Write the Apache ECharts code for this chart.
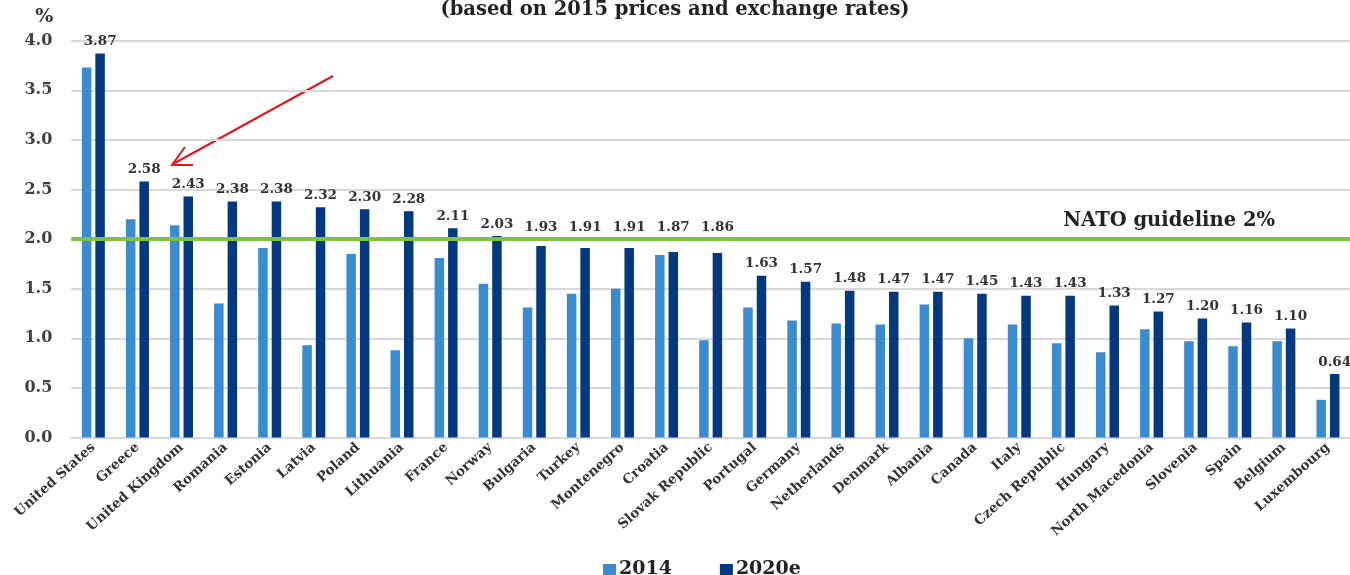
<!DOCTYPE html>
<html>
<head>
<meta charset="utf-8">
<script src="https://cdn.jsdelivr.net/npm/echarts@6/dist/echarts.min.js"></script>
<style>
html,body{margin:0;padding:0;background:#fff;}
#chart{width:1350px;height:575px;}
</style>
</head>
<body>
<div id="chart"></div>
<script>
const categories = ["United States","Greece","United Kingdom","Romania","Estonia","Latvia","Poland","Lithuania","France","Norway","Bulgaria","Turkey","Montenegro","Croatia","Slovak Republic","Portugal","Germany","Netherlands","Denmark","Albania","Canada","Italy","Czech Republic","Hungary","North Macedonia","Slovenia","Spain","Belgium","Luxembourg"];
const values2014 = [3.73,2.20,2.14,1.35,1.91,0.93,1.85,0.88,1.81,1.55,1.31,1.45,1.50,1.84,0.98,1.31,1.18,1.15,1.14,1.34,1.00,1.14,0.95,0.86,1.09,0.97,0.92,0.97,0.38];
const values2020 = [3.87,2.58,2.43,2.38,2.38,2.32,2.30,2.28,2.11,2.03,1.93,1.91,1.91,1.87,1.86,1.63,1.57,1.48,1.47,1.47,1.45,1.43,1.43,1.33,1.27,1.20,1.16,1.10,0.64];
const seriesNames = ["2014","2020e"];
const guidelineValue = 2.0;
const guidelineText = "NATO guideline 2%";
const titleText = "(based on 2015 prices and exchange rates)";
const yTicks = {min:0, max:4, interval:0.5};

const FONT = "DejaVu Serif";
const GRID = {left:71.3, right:-7.2, top:40.7, bottom:137.5};
const plotH = 575 - GRID.top - GRID.bottom;
const pxPerUnit = plotH / (yTicks.max - yTicks.min);

// labels of bars just under the guideline are lifted above the green line
const data2020 = values2020.map(v => {
  if (v >= 1.75 && v < guidelineValue) {
    const lift = (guidelineValue - v) * pxPerUnit;
    return {value:v, label:{offset:[0, -lift]}};
  }
  return {value:v};
});

const chart = echarts.init(document.getElementById('chart'), null, {renderer:'canvas'});
chart.setOption({
  animation:false,
  backgroundColor:'#fff',
  title:{
    text:titleText, left:'center', top:0, padding:0,
    textStyle:{fontFamily:FONT, fontWeight:'bold', fontSize:19.5, color:'#222'}
  },
  legend:{
    data:seriesNames, left:598, top:555, itemGap:48, itemWidth:13, itemHeight:11,
    icon:'rect',
    textStyle:{fontFamily:FONT, fontWeight:'bold', fontSize:19, color:'#222', padding:[0,0,0,-2]}
  },
  grid:Object.assign({containLabel:false}, GRID),
  xAxis:{
    type:'category', data:categories,
    axisLine:{show:true, lineStyle:{color:'#D9D9D9', width:2}},
    axisTick:{show:false},
    axisLabel:{interval:0, rotate:42, margin:8, fontFamily:FONT, fontWeight:'bold', fontSize:13.5, color:'#333'}
  },
  yAxis:{
    type:'value', min:yTicks.min, max:yTicks.max, interval:yTicks.interval,
    name:'%', nameLocation:'end', nameGap:14,
    nameTextStyle:{fontFamily:FONT, fontWeight:'bold', fontSize:19, color:'#333', align:'right', padding:[0,18,0,0]},
    axisLine:{show:false}, axisTick:{show:false},
    splitLine:{lineStyle:{color:'#D9D9D9', width:2}},
    axisLabel:{margin:19, fontFamily:FONT, fontWeight:'bold', fontSize:16, color:'#404040', formatter:v=>v.toFixed(1)}
  },
  series:[
    {name:seriesNames[0], type:'bar', data:values2014, barWidth:9.5, barGap:'42%',
     itemStyle:{color:'#3A8BD0'}},
    {name:seriesNames[1], type:'bar', data:data2020, barWidth:9.5, barGap:'42%',
     itemStyle:{color:'#04397F'},
     label:{show:true, position:'top', distance:5, fontFamily:FONT, fontWeight:'bold', fontSize:13.5, color:'#333', formatter:p=>p.value.toFixed(2)},
     markLine:{
       silent:true, symbol:['none','none'],
       lineStyle:{color:'#7DC242', width:4, type:'solid'},
       label:{show:true, position:'insideEndTop', formatter:guidelineText, distance:8, padding:[0,67,0,0],
              fontFamily:FONT, fontWeight:'bold', fontSize:19.5, color:'#222'},
       data:[{yAxis:guidelineValue}]
     }}
  ],
  graphic:[
    {type:'line', shape:{x1:333, y1:76, x2:173, y2:164}, style:{stroke:'#E8141C', lineWidth:2}},
    {type:'polyline', shape:{points:[[185,147],[172,165],[193,165]]}, style:{stroke:'#E8141C', lineWidth:2, fill:null}}
  ]
});
</script>
</body>
</html>
